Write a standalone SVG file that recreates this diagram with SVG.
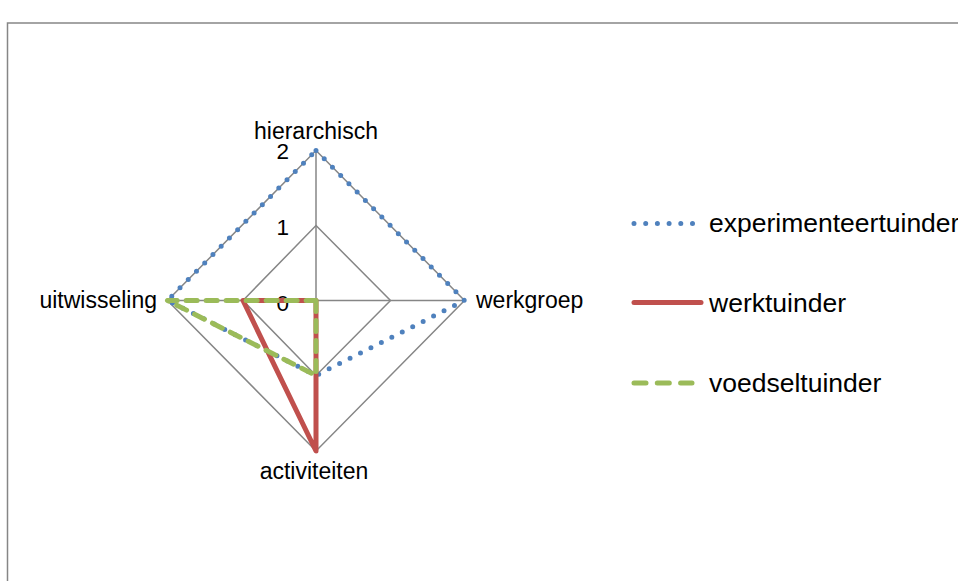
<svg xmlns="http://www.w3.org/2000/svg" width="958" height="581" viewBox="0 0 958 581">
<style>
.grid{fill:none;stroke:#868686;stroke-width:1.5}
.lbl{font-family:"Liberation Sans",Arial,sans-serif;font-size:23px;fill:#000}
.num{font-family:"Liberation Sans",Arial,sans-serif;font-size:22.5px;fill:#000;text-anchor:end}
.leg{font-family:"Liberation Sans",Arial,sans-serif;font-size:26.5px;fill:#000}
.s1{fill:none;stroke:#4f81bd;stroke-width:5;stroke-linecap:round;stroke-linejoin:round;stroke-dasharray:0 11.7}
.s2{fill:none;stroke:#c0504d;stroke-width:5;stroke-linecap:round;stroke-linejoin:round}
.s3{fill:none;stroke:#9bbb59;stroke-width:5;stroke-linecap:round;stroke-linejoin:round;stroke-dasharray:11 9}
</style>
<rect x="7.5" y="23" width="960" height="570" fill="#fff" stroke="#868686" stroke-width="1.5"/>
<g id="grid">
<polygon class="grid" points="316,150.5 464.5,300.5 316,451 167.5,300.5"/>
<polygon class="grid" points="316,225.5 390.5,300.5 316,375.5 243,300.5"/>
<line class="grid" x1="316" y1="300.5" x2="316" y2="150.5"/>
<line class="grid" x1="316" y1="300.5" x2="464.5" y2="300.5"/>
<line class="grid" x1="316" y1="300.5" x2="316" y2="451"/>
<line class="grid" x1="316" y1="300.5" x2="167.5" y2="300.5"/>
</g>
<g id="axis-labels">
<text class="lbl" x="316" y="139" text-anchor="middle">hierarchisch</text>
<text class="lbl" x="476" y="308">werkgroep</text>
<text class="lbl" x="314" y="478.5" text-anchor="middle">activiteiten</text>
<text class="lbl" x="157" y="308" text-anchor="end">uitwisseling</text>
<text class="num" x="289" y="159">2</text>
<text class="num" x="289" y="235">1</text>
<text class="num" x="289" y="311">0</text>
</g>
<g id="connectors">
<polygon id="series-experimenteertuinder" class="s1" points="316,150.5 464.5,300.5 316,375.5 167.5,300.5"/>
<polygon id="series-werktuinder" class="s2" points="316,300.5 316,300.5 316,451 243,300.5"/>
<polygon id="series-voedseltuinder" class="s3" points="316,300.5 316,300.5 316,375.5 167.5,300.5"/>
</g>
<g id="legend-experimenteertuinder">
<line class="s1" x1="634" y1="223.5" x2="696" y2="223.5"/>
<text class="leg" x="709" y="231.5">experimenteertuinder</text>
</g>
<g id="legend-werktuinder">
<line class="s2" x1="634" y1="302.5" x2="701" y2="302.5"/>
<text class="leg" x="709" y="311.5">werktuinder</text>
</g>
<g id="legend-voedseltuinder">
<line class="s3" x1="634" y1="383" x2="692" y2="383" style="stroke-dasharray:12 11.3"/>
<text class="leg" x="709" y="392">voedseltuinder</text>
</g>
</svg>
